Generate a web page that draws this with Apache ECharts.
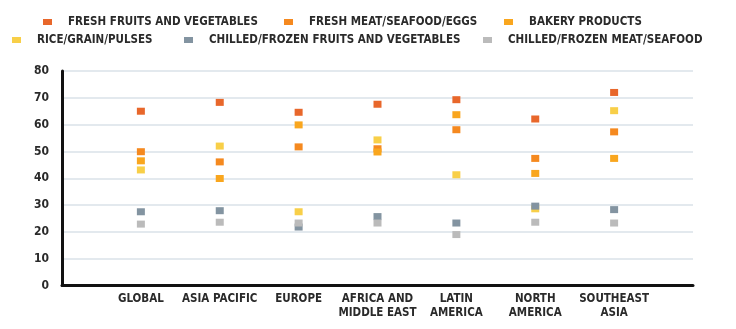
<!DOCTYPE html>
<html>
<head>
<meta charset="utf-8">
<script src="https://cdn.jsdelivr.net/npm/echarts@6/dist/echarts.min.js"></script>
<style>
html,body{margin:0;padding:0;background:#fff;}
#chart{width:736px;height:329px;}
</style>
</head>
<body>
<div id="chart"></div>
<script>
const categories = ['GLOBAL', 'ASIA PACIFIC', 'EUROPE', 'AFRICA AND\nMIDDLE EAST', 'LATIN\nAMERICA', 'NORTH\nAMERICA', 'SOUTHEAST\nASIA'];
const seriesNames = ['FRESH FRUITS AND VEGETABLES', 'FRESH MEAT/SEAFOOD/EGGS', 'BAKERY PRODUCTS', 'RICE/GRAIN/PULSES', 'CHILLED/FROZEN FRUITS AND VEGETABLES', 'CHILLED/FROZEN MEAT/SEAFOOD'];
const freshFruitsVeg = [65.0, 68.3, 64.6, 67.6, 69.3, 62.1, 72.0];
const freshMeat = [49.9, 46.1, 51.7, 51.0, 58.1, 47.4, 57.3];
const bakery = [46.5, 39.9, 59.9, 49.8, 63.7, 41.8, 47.4];
const riceGrain = [43.1, 52.0, 27.5, 54.3, 41.3, 28.6, 65.2];
const chilledFruitsVeg = [27.5, 27.9, 21.8, 25.7, 23.3, 29.6, 28.3];
const chilledMeat = [22.9, 23.6, 23.3, 23.3, 19.0, 23.6, 23.3];
const yTicks = [0, 10, 20, 30, 40, 50, 60, 70, 80];

const colors = ['#E8672B', '#F5891F', '#F9A61E', '#F8CF48', '#8394A1', '#BBBBBB'];
const allValues = [freshFruitsVeg, freshMeat, bakery, riceGrain, chilledFruitsVeg, chilledMeat];
const FONT = "'Liberation Sans Narrow', 'DejaVu Sans Condensed', 'Roboto', sans-serif";

// padded category axis: blank slot at each end
const axisCats = [''].concat(categories, ['']);

const legendPos = [[43, 16], [284, 16], [504, 16], [12, 34], [184, 34], [483, 34]];
const legends = seriesNames.map((n, i) => ({
  data: [n],
  left: legendPos[i][0],
  top: legendPos[i][1],
  padding: 0,
  icon: 'rect',
  itemWidth: 9,
  itemHeight: 6,
  selectedMode: false,
  textStyle: { fontFamily: FONT, fontWeight: 'bold', fontSize: 11.5, color: '#2a2a2a', padding: [0, 0, 0, 11] }
}));

const chart = echarts.init(document.getElementById('chart'));
chart.setOption({
  animation: false,
  backgroundColor: '#ffffff',
  legend: legends,
  grid: { left: 62, right: 43, top: 71, bottom: 43.5, containLabel: false },
  xAxis: {
    type: 'category',
    data: axisCats,
    boundaryGap: false,
    axisLine: { lineStyle: { color: '#111', width: 3 } },
    axisTick: { show: false },
    splitLine: { show: false },
    axisLabel: { interval: 0, margin: 7, fontFamily: FONT, fontWeight: 'bold', fontSize: 11.5, color: '#2a2a2a', lineHeight: 14 }
  },
  yAxis: {
    type: 'value',
    min: yTicks[0],
    max: yTicks[yTicks.length - 1],
    interval: 10,
    axisLine: { show: true, lineStyle: { color: '#111', width: 3 } },
    axisTick: { show: false },
    splitLine: { lineStyle: { color: '#E3E9EE', width: 2 } },
    axisLabel: { margin: 13, fontFamily: FONT, fontWeight: 'bold', fontSize: 12, color: '#2a2a2a' }
  },
  series: seriesNames.map((n, i) => ({
    name: n,
    type: 'scatter',
    symbol: 'rect',
    symbolSize: [8, 7],
    itemStyle: { color: colors[i], opacity: 1 },
    data: allValues[i].map((v, j) => [j + 1, v]),
    z: 3 + i
  }))
});
</script>
</body>
</html>
